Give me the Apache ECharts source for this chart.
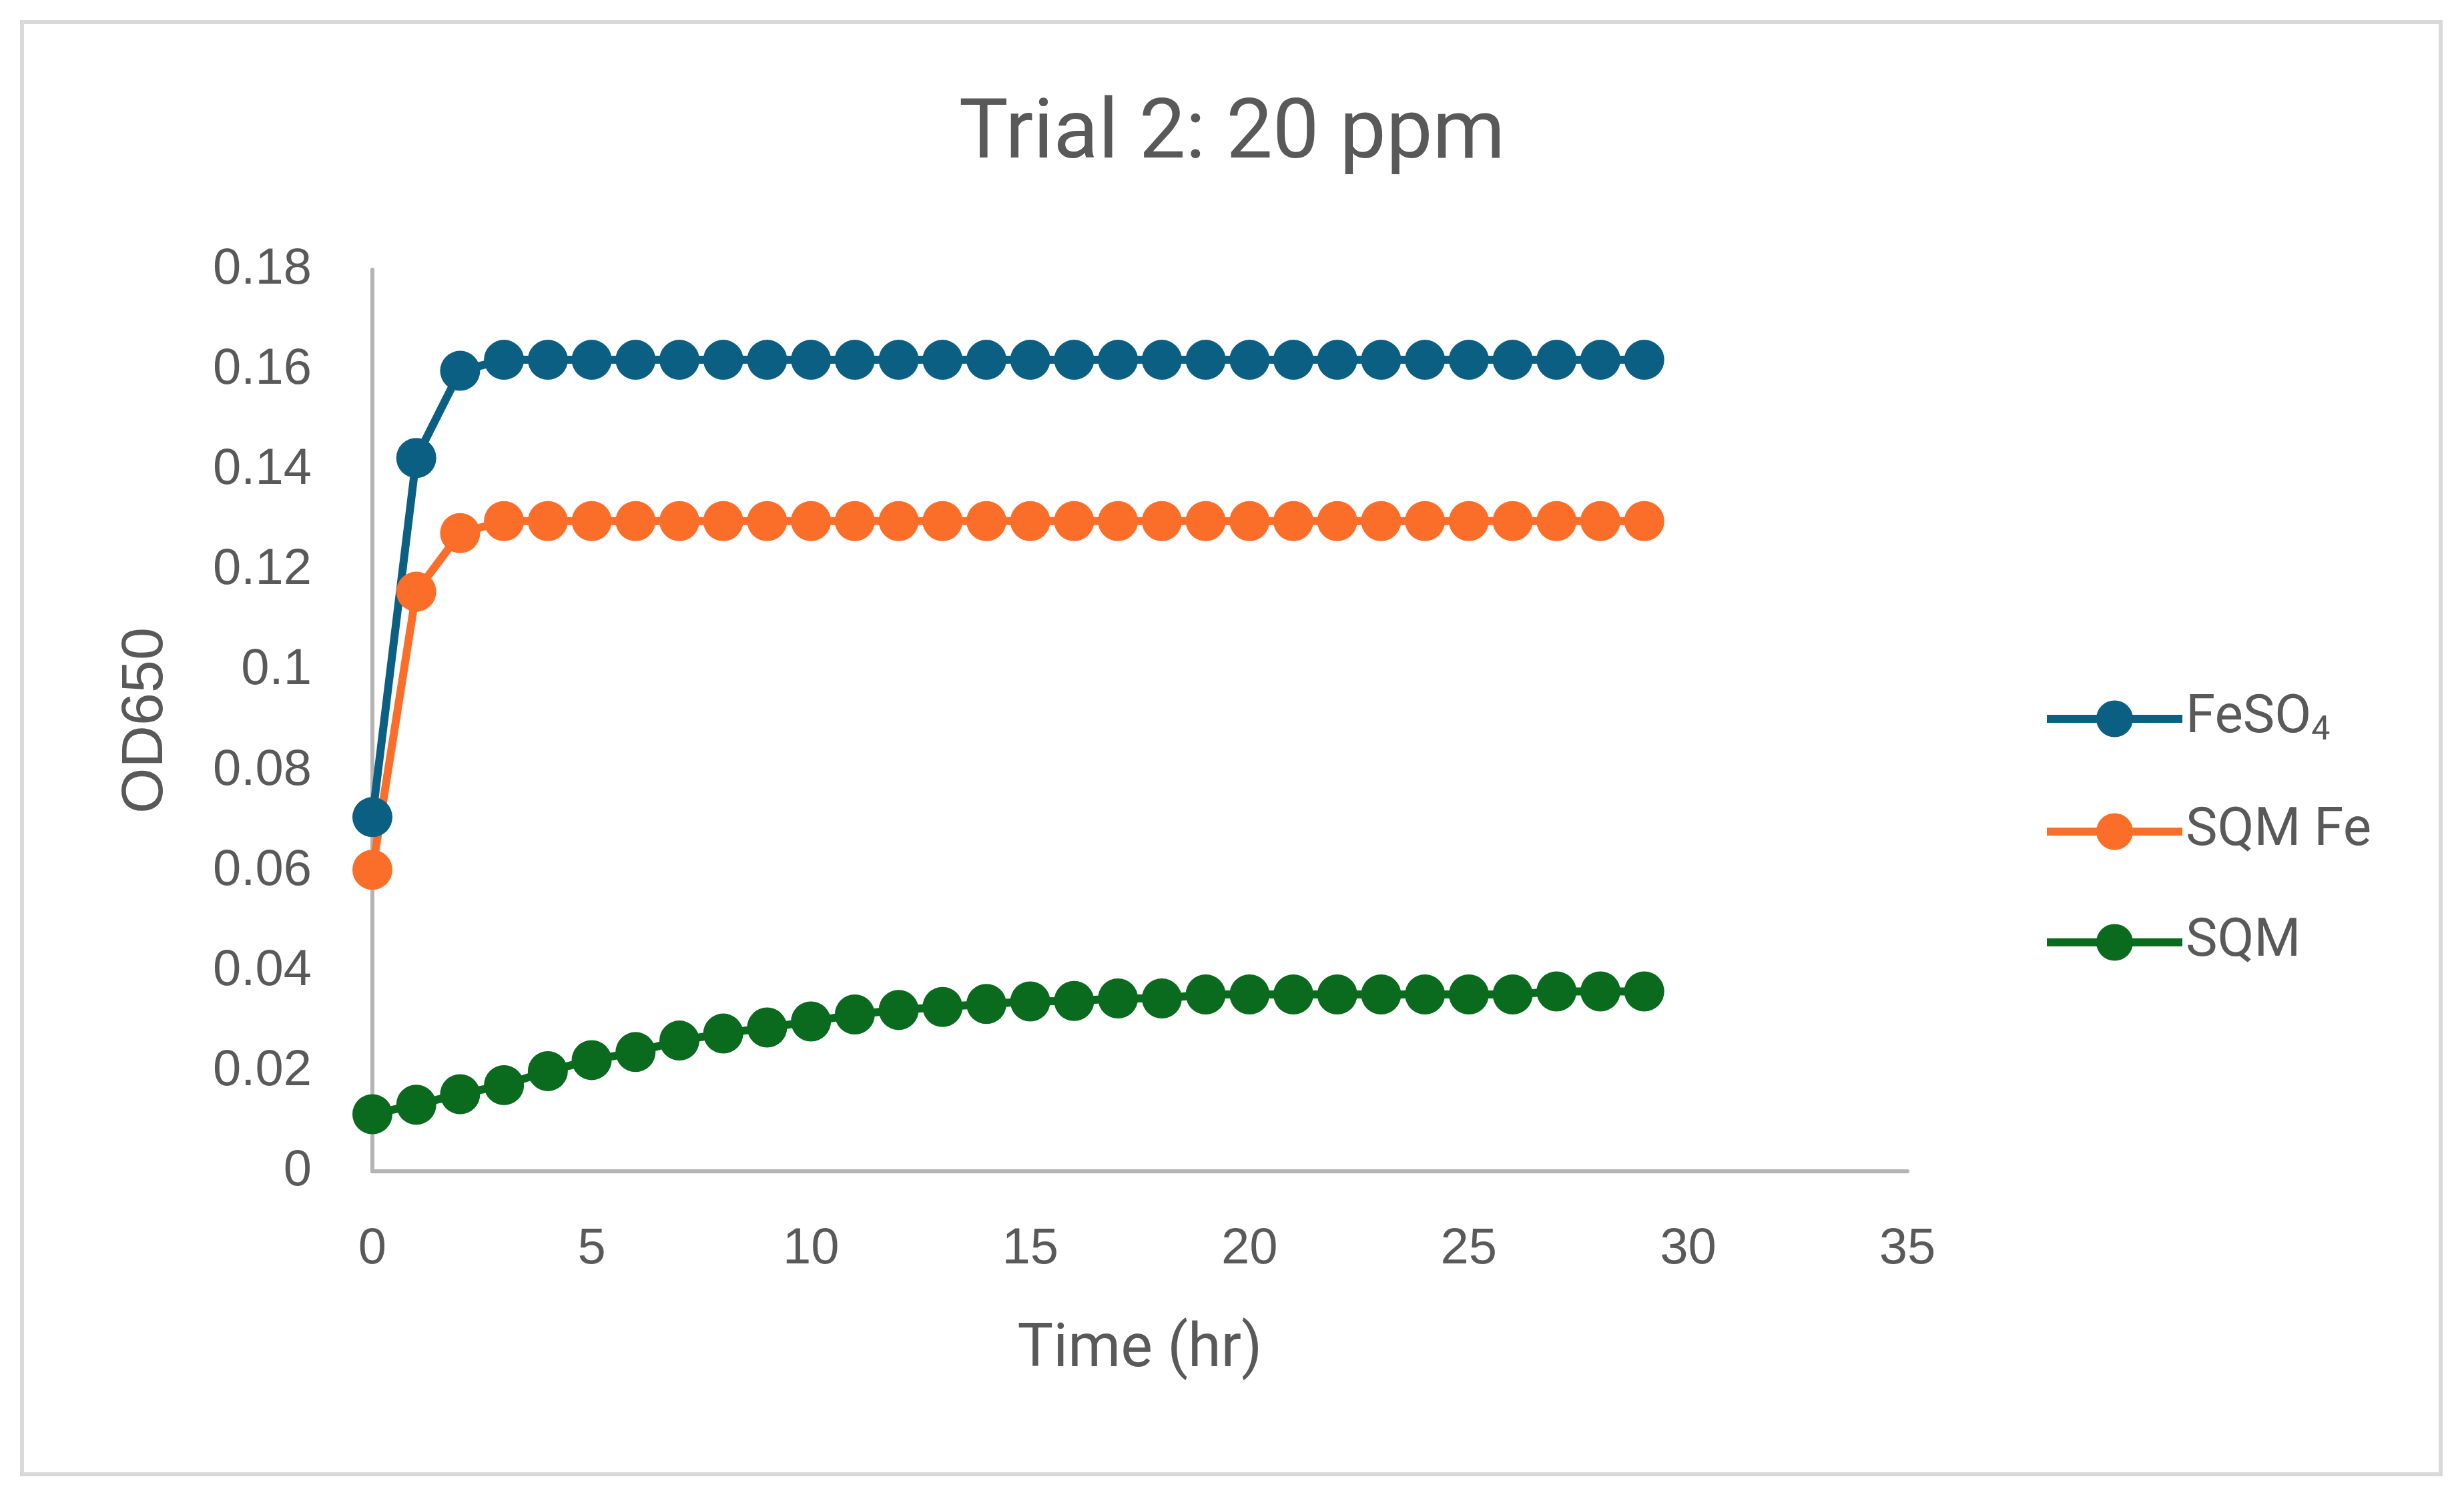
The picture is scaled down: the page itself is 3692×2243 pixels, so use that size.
<!DOCTYPE html>
<html>
<head>
<meta charset="utf-8">
<script src="https://cdn.jsdelivr.net/npm/echarts@6/dist/echarts.min.js"></script>
<style>
html,body{margin:0;padding:0;background:#fff;}
#chart{width:3692px;height:2243px;}
</style>
</head>
<body>
<div id="chart"></div>
<script>
const titleText = 'Trial 2: 20 ppm';
const xAxisTitle = 'Time (hr)';
const yAxisTitle = 'OD650';
const seriesNames = ['FeSO4', 'SQM Fe', 'SQM'];
const hours = [0,1,2,3,4,5,6,7,8,9,10,11,12,13,14,15,16,17,18,19,20,21,22,23,24,25,26,27,28,29];
const feso4 = [0.0707,0.1424,0.1598,0.162,0.162,0.162,0.162,0.162,0.162,0.162,0.162,0.162,0.162,0.162,0.162,0.162,0.162,0.162,0.162,0.162,0.162,0.162,0.162,0.162,0.162,0.162,0.162,0.162,0.162,0.162];
const sqmFe = [0.0602,0.1157,0.1274,0.1298,0.1298,0.1298,0.1298,0.1298,0.1298,0.1298,0.1298,0.1298,0.1298,0.1298,0.1298,0.1298,0.1298,0.1298,0.1298,0.1298,0.1298,0.1298,0.1298,0.1298,0.1298,0.1298,0.1298,0.1298,0.1298,0.1298];
const sqm = [0.0114,0.0133,0.0154,0.0172,0.0200,0.0222,0.0238,0.0261,0.0275,0.0287,0.0299,0.0313,0.0322,0.0328,0.0334,0.0339,0.0340,0.0345,0.0345,0.0353,0.0353,0.0353,0.0353,0.0353,0.0353,0.0353,0.0353,0.0359,0.0359,0.0359];
const colors = ['#0B5F82', '#FB6E2A', '#0A6B1E'];

function pairs(xs, ys){ return xs.map((x,i)=>[x, ys[i]]); }

const chart = echarts.init(document.getElementById('chart'), null, {renderer:'canvas'});
const axisColor = '#b4b4b4';
const textColor = '#595959';
const makeSeries = (name, ys, color) => ({
  name: name,
  type: 'line',
  data: pairs(hours, ys),
  symbol: 'circle',
  symbolSize: 60,
  showAllSymbol: true,
  lineStyle: {width: 12, color: color},
  itemStyle: {color: color},
  emphasis: {disabled: true}
});
chart.setOption({
  animation: false,
  backgroundColor: '#ffffff',
  title: {
    text: titleText,
    left: 'center',
    top: 138,
    textStyle: {fontFamily: 'Roboto', fontSize: 124, fontWeight: 'normal', color: textColor}
  },
  graphic: [{
    type: 'rect',
    shape: {x: 33, y: 33, width: 3624, height: 2176},
    style: {fill: 'none', stroke: '#d9d9d9', lineWidth: 6},
    silent: true
  }],
  grid: {left: 558, right: 834, top: 404, bottom: 488, containLabel: false},
  legend: {
    orient: 'vertical',
    left: 3056,
    top: 1029,
    itemWidth: 203,
    itemHeight: 69,
    itemGap: 86,
    lineStyle: {width: 12},
    textStyle: {
      fontFamily: 'Roboto', fontSize: 80, color: textColor, lineHeight: 76,
      rich: {
        b: {fontFamily: 'Roboto', fontSize: 80, color: textColor, lineHeight: 76},
        s: {fontFamily: 'Roboto', fontSize: 50, color: textColor, lineHeight: 40, padding: [36, 0, 0, 0]}
      }
    },
    formatter: function(name){
      if (name === 'FeSO4') return '{b|FeSO}{s|4}';
      return name;
    },
    data: seriesNames
  },
  xAxis: {
    type: 'value',
    min: 0, max: 35, interval: 5,
    name: xAxisTitle,
    nameLocation: 'middle',
    nameGap: 224,
    nameTextStyle: {fontFamily: 'Roboto', fontSize: 90, color: textColor},
    axisLine: {show: true, lineStyle: {color: axisColor, width: 6}},
    axisTick: {show: false},
    splitLine: {show: false},
    axisLabel: {fontFamily: 'Liberation Sans', fontSize: 76, color: textColor, margin: 79}
  },
  yAxis: {
    type: 'value',
    min: 0, max: 0.18, interval: 0.02,
    name: yAxisTitle,
    nameLocation: 'middle',
    nameRotate: 90,
    nameGap: 295,
    nameTextStyle: {fontFamily: 'Liberation Sans', fontSize: 88, color: textColor},
    axisLine: {show: true, lineStyle: {color: axisColor, width: 6}},
    axisTick: {show: false},
    splitLine: {show: false},
    axisLabel: {fontFamily: 'Liberation Sans', fontSize: 76, color: textColor, margin: 91}
  },
  series: [
    makeSeries(seriesNames[0], feso4, colors[0]),
    makeSeries(seriesNames[1], sqmFe, colors[1]),
    makeSeries(seriesNames[2], sqm, colors[2])
  ]
});
</script>
</body>
</html>
